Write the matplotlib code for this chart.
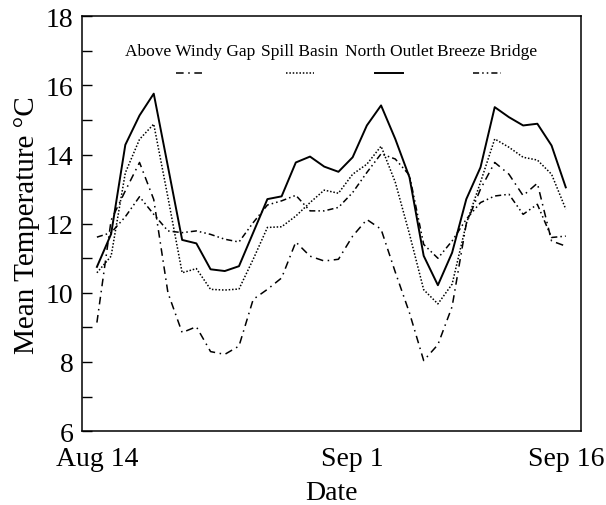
import matplotlib
matplotlib.use("Agg")
import matplotlib.pyplot as plt
import matplotlib.dates as mdates
import pandas as pd

plt.rcParams["font.family"] = ["Liberation Serif", "DejaVu Serif"]

# daily means, Aug 14 - Sep 16
dates = pd.date_range("2000-08-14", "2000-09-16", freq="D")

above_windy_gap = [9.14, 12.1, 12.95, 13.77, 12.7, 10.0, 8.85, 9.02, 8.3, 8.22,
                   8.46, 9.81, 10.1, 10.43, 11.47, 11.06, 10.92, 10.97, 11.64, 12.12,
                   11.84, 10.6, 9.42, 8.04, 8.5, 9.6, 12.0, 13.0, 13.77, 13.43,
                   12.81, 13.17, 11.5, 11.35]
spill_basin = [10.58, 11.06, 13.47, 14.44, 14.88, 12.76, 10.58, 10.7, 10.1, 10.08,
               10.11, 10.97, 11.89, 11.91, 12.22, 12.61, 12.97, 12.88, 13.43, 13.72,
               14.24, 13.2, 11.7, 10.09, 9.68, 10.25, 12.0, 13.2, 14.45, 14.21,
               13.92, 13.84, 13.43, 12.42]
north_outlet = [10.75, 11.7, 14.28, 15.13, 15.76, 13.65, 11.53, 11.43, 10.68, 10.63,
                10.77, 11.74, 12.71, 12.79, 13.77, 13.94, 13.65, 13.5, 13.92, 14.84,
                15.42, 14.45, 13.34, 11.07, 10.22, 11.16, 12.71, 13.63, 15.37, 15.08,
                14.84, 14.89, 14.26, 13.05]
breeze_bridge = [11.61, 11.74, 12.2, 12.78, 12.27, 11.79, 11.74, 11.79, 11.69, 11.55,
                 11.47, 12.03, 12.54, 12.66, 12.82, 12.37, 12.37, 12.47, 12.9, 13.48,
                 14.02, 13.87, 13.4, 11.4, 11.0, 11.5, 12.13, 12.61, 12.8, 12.85,
                 12.27, 12.56, 11.6, 11.64]

names = ["Above Windy Gap", "Spill Basin", "North Outlet", "Breeze Bridge"]
series = [above_windy_gap, spill_basin, north_outlet, breeze_bridge]
styles = [(0, (5, 3, 1, 3)), (0, (1, 1.2)), "-", (0, (4, 2, 1, 2, 1, 2))]
widths = [1.1, 1.1, 1.4, 1.1]

fig = plt.figure(figsize=(6.06, 5.06), dpi=100)
ax = fig.add_axes([0.135, 0.146, 0.824, 0.820])

for vals, ls, lw in zip(series, styles, widths):
    ax.plot(dates, vals, color="black", linestyle=ls, linewidth=lw)

# legend: names in a row, line samples underneath
name_x = [0.216, 0.437, 0.615, 0.812]
for name, cx, ls, lw in zip(names, name_x, styles, widths):
    ax.text(cx, 0.916, name, transform=ax.transAxes, ha="center", va="center", fontsize=12.5)
    ax.plot([cx - 0.028, cx + 0.028], [0.863, 0.863], transform=ax.transAxes,
            color="black", linestyle=ls, linewidth=lw)

ax.set_xlim(pd.Timestamp("2000-08-12 22:30"), pd.Timestamp("2000-09-17 02:00"))
ax.set_ylim(6, 18)
ax.set_yticks([6, 8, 10, 12, 14, 16, 18])
ax.set_yticks([7, 9, 11, 13, 15, 17], minor=True)
ax.set_xticks([pd.Timestamp("2000-08-14"), pd.Timestamp("2000-09-01"), pd.Timestamp("2000-09-16")])
ax.xaxis.set_major_formatter(mdates.DateFormatter("%b %-d"))

ax.tick_params(axis="y", which="both", direction="in", length=7, width=1, labelsize=20, pad=6)
ax.tick_params(axis="x", length=0, labelsize=20, pad=11)
for s in ax.spines.values():
    s.set_linewidth(1.1)

ax.set_xlabel("Date", fontsize=20, labelpad=6)
ax.set_ylabel("Mean Temperature \u00b0C", fontsize=21, labelpad=4)

fig.savefig("out.png", dpi=100)
